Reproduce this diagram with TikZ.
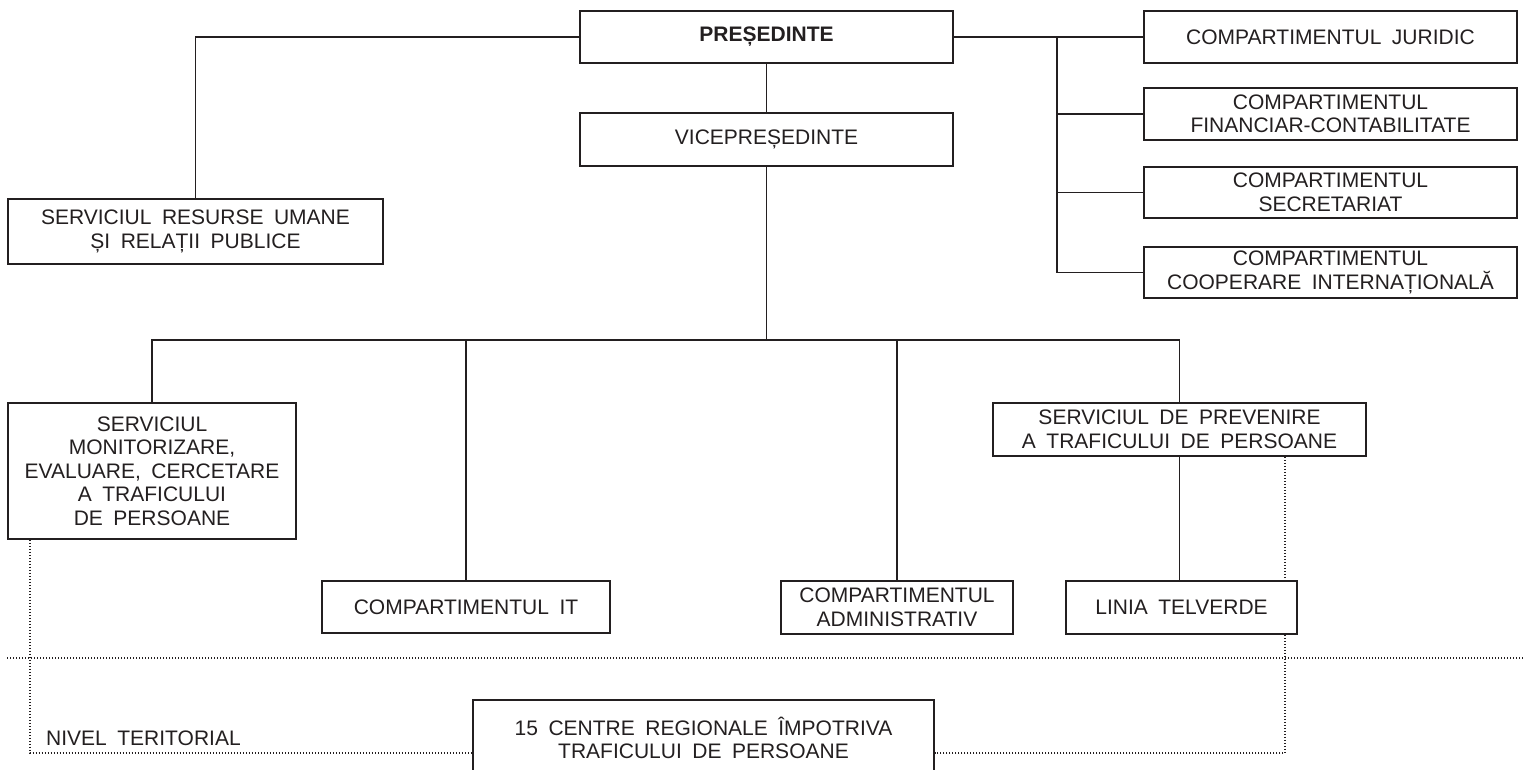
\documentclass[tikz,border=0pt]{standalone}
\usepackage{fontspec}
\setmainfont[WordSpace=1.8]{Liberation Sans}
\definecolor{ink}{RGB}{35,31,32}
\begin{document}
\begin{tikzpicture}[x=1pt,y=-1pt,
  box/.style={draw=ink, line width=1.5pt, fill=white, inner sep=0pt, align=center, text=ink,
    font=\fontsize{21}{23.5}\selectfont},
  conn/.style={draw=ink, line width=1.4pt},
  dotline/.style={draw=ink, line width=1.1pt, dash pattern=on 1.1pt off 1.9pt},
  lbl/.style={text=ink, inner sep=0pt, font=\fontsize{21}{23.5}\selectfont}]
\useasboundingbox (0,0) rectangle (1523,769);
\clip (0,0) rectangle (1523,769);

% top level
\node[box, minimum width=373, minimum height=52] (pres) at (766.5,37) {\textbf{PREȘEDINTE}};
\node[box, minimum width=373, minimum height=53] (vice) at (766.5,139.5) {VICEPREȘEDINTE};
\node[box, minimum width=375, minimum height=65] (sr) at (195.5,231.5) {SERVICIUL RESURSE UMANE\\ȘI RELAȚII PUBLICE};

% right column
\node[box, minimum width=373, minimum height=52] (jur) at (1330.5,37) {COMPARTIMENTUL JURIDIC};
\node[box, minimum width=373, minimum height=52] (fin) at (1330.5,114) {COMPARTIMENTUL\\FINANCIAR-CONTABILITATE};
\node[box, minimum width=373, minimum height=51] (sec) at (1330.5,192.5) {COMPARTIMENTUL\\SECRETARIAT};
\node[box, minimum width=373, minimum height=51] (coop) at (1330.5,272.5) {COMPARTIMENTUL\\COOPERARE INTERNAȚIONALĂ};

% lower level
\node[box, minimum width=288, minimum height=136] (smectp) at (152,471) {SERVICIUL\\MONITORIZARE,\\EVALUARE, CERCETARE\\A TRAFICULUI\\DE PERSOANE};
\node[box, minimum width=288, minimum height=52] (it) at (466,607) {COMPARTIMENTUL IT};
\node[box, minimum width=232, minimum height=53] (admin) at (897,607.5) {COMPARTIMENTUL\\ADMINISTRATIV};
\node[box, minimum width=373, minimum height=53] (sptp) at (1179.5,429.5) {SERVICIUL DE PREVENIRE\\A TRAFICULUI DE PERSOANE};
\node[box, minimum width=231, minimum height=53] (linia) at (1181.5,607.5) {LINIA TELVERDE};

% territorial level
\node[box, minimum width=461, minimum height=76] (centre) at (703.5,738) {15 CENTRE REGIONALE ÎMPOTRIVA\\TRAFICULUI DE PERSOANE};
\node[lbl, anchor=west] (nivel) at (46,738) {NIVEL TERITORIAL};

% coordinates
\coordinate (rb) at (1057,37);
\coordinate (bus) at (766.5,340);
\coordinate (dl) at (30,753);
\coordinate (dr) at (1285,753);
\coordinate (sepl) at (7,658);
\coordinate (sepr) at (1523,658);

% solid connectors
\draw[conn] (pres.west) -| (sr.north);
\draw[conn] (pres.south) -- (vice.north);
\draw[conn] (pres.east) -- (jur.west);
\draw[conn] (rb) |- (coop.west);
\draw[conn] (rb |- fin.west) -- (fin.west);
\draw[conn] (rb |- sec.west) -- (sec.west);
\draw[conn] (vice.south) -- (bus);
\draw[conn] (smectp.north) -- (smectp.north |- bus) -- (sptp.north |- bus) -- (sptp.north);
\draw[conn] (it.north) -- (it.north |- bus);
\draw[conn] (admin.north) -- (admin.north |- bus);
\draw[conn] (sptp.south) -- (sptp.south |- linia.north);

% dotted connectors
\draw[dotline] (sepl) -- (sepr);
\draw[dotline] (dl |- smectp.south) -- (dl) -- (dl -| centre.west);
\draw[dotline] (dr |- sptp.south) -- (dr |- linia.north);
\draw[dotline] (dr |- linia.south) -- (dr) -- (dr -| centre.east);
\end{tikzpicture}
\end{document}
